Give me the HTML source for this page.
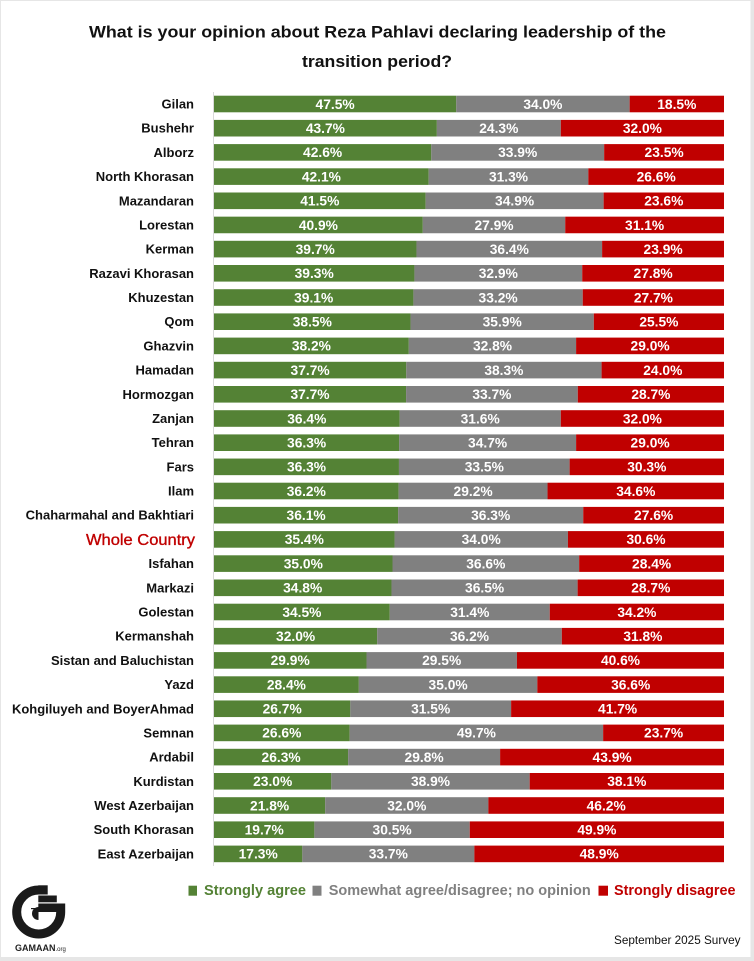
<!DOCTYPE html>
<html><head><meta charset="utf-8"><style>
html,body{margin:0;padding:0;background:#fff;}
svg{display:block;}
text{font-family:"Liberation Sans",Arial,sans-serif;}
.lb{font-size:13px;font-weight:bold;fill:#111;text-anchor:end;}
.v{font-size:13.8px;font-weight:bold;fill:#fff;text-anchor:middle;}
</style></head><body>
<svg width="754" height="961" viewBox="0 0 754 961" xmlns="http://www.w3.org/2000/svg">
<rect x="0" y="0" width="754" height="961" fill="#e6e6e6"/>
<rect x="1" y="1" width="749.5" height="956" fill="#fff"/>
<text x="89" y="37.5" font-size="17" font-weight="bold" fill="#111" textLength="577" lengthAdjust="spacingAndGlyphs">What is your opinion about Reza Pahlavi declaring leadership of the</text>
<text x="302" y="67" font-size="17" font-weight="bold" fill="#111" textLength="150" lengthAdjust="spacingAndGlyphs">transition period?</text>
<line x1="213.5" y1="92" x2="213.5" y2="866" stroke="#d9d9d9" stroke-width="1"/>

<g transform="translate(0,104)"><text class="lb" x="194" y="4.5">Gilan</text><rect x="214" y="-8.3" width="242.25" height="16.6" fill="#548235"/><rect x="456.25" y="-8.3" width="173.4" height="16.6" fill="#808080"/><rect x="629.65" y="-8.3" width="94.35" height="16.6" fill="#c00000"/><text class="v" x="335.1" y="4.8">47.5%</text><text class="v" x="542.9" y="4.8">34.0%</text><text class="v" x="676.8" y="4.8">18.5%</text></g>
<g transform="translate(0,128.2)"><text class="lb" x="194" y="4.5">Bushehr</text><rect x="214" y="-8.3" width="222.87" height="16.6" fill="#548235"/><rect x="436.87" y="-8.3" width="123.93" height="16.6" fill="#808080"/><rect x="560.8" y="-8.3" width="163.2" height="16.6" fill="#c00000"/><text class="v" x="325.4" y="4.8">43.7%</text><text class="v" x="498.8" y="4.8">24.3%</text><text class="v" x="642.4" y="4.8">32.0%</text></g>
<g transform="translate(0,152.4)"><text class="lb" x="194" y="4.5">Alborz</text><rect x="214" y="-8.3" width="217.26" height="16.6" fill="#548235"/><rect x="431.26" y="-8.3" width="172.89" height="16.6" fill="#808080"/><rect x="604.15" y="-8.3" width="119.85" height="16.6" fill="#c00000"/><text class="v" x="322.6" y="4.8">42.6%</text><text class="v" x="517.7" y="4.8">33.9%</text><text class="v" x="664.1" y="4.8">23.5%</text></g>
<g transform="translate(0,176.6)"><text class="lb" x="194" y="4.5">North Khorasan</text><rect x="214" y="-8.3" width="214.71" height="16.6" fill="#548235"/><rect x="428.71" y="-8.3" width="159.63" height="16.6" fill="#808080"/><rect x="588.34" y="-8.3" width="135.66" height="16.6" fill="#c00000"/><text class="v" x="321.4" y="4.8">42.1%</text><text class="v" x="508.5" y="4.8">31.3%</text><text class="v" x="656.2" y="4.8">26.6%</text></g>
<g transform="translate(0,200.8)"><text class="lb" x="194" y="4.5">Mazandaran</text><rect x="214" y="-8.3" width="211.65" height="16.6" fill="#548235"/><rect x="425.65" y="-8.3" width="177.99" height="16.6" fill="#808080"/><rect x="603.64" y="-8.3" width="120.36" height="16.6" fill="#c00000"/><text class="v" x="319.8" y="4.8">41.5%</text><text class="v" x="514.6" y="4.8">34.9%</text><text class="v" x="663.8" y="4.8">23.6%</text></g>
<g transform="translate(0,224.95)"><text class="lb" x="194" y="4.5">Lorestan</text><rect x="214" y="-8.3" width="208.8" height="16.6" fill="#548235"/><rect x="422.8" y="-8.3" width="142.43" height="16.6" fill="#808080"/><rect x="565.23" y="-8.3" width="158.77" height="16.6" fill="#c00000"/><text class="v" x="318.4" y="4.8">40.9%</text><text class="v" x="494.0" y="4.8">27.9%</text><text class="v" x="644.6" y="4.8">31.1%</text></g>
<g transform="translate(0,249.1)"><text class="lb" x="194" y="4.5">Kerman</text><rect x="214" y="-8.3" width="202.47" height="16.6" fill="#548235"/><rect x="416.47" y="-8.3" width="185.64" height="16.6" fill="#808080"/><rect x="602.11" y="-8.3" width="121.89" height="16.6" fill="#c00000"/><text class="v" x="315.2" y="4.8">39.7%</text><text class="v" x="509.3" y="4.8">36.4%</text><text class="v" x="663.1" y="4.8">23.9%</text></g>
<g transform="translate(0,273.3)"><text class="lb" x="194" y="4.5">Razavi Khorasan</text><rect x="214" y="-8.3" width="200.43" height="16.6" fill="#548235"/><rect x="414.43" y="-8.3" width="167.79" height="16.6" fill="#808080"/><rect x="582.22" y="-8.3" width="141.78" height="16.6" fill="#c00000"/><text class="v" x="314.2" y="4.8">39.3%</text><text class="v" x="498.3" y="4.8">32.9%</text><text class="v" x="653.1" y="4.8">27.8%</text></g>
<g transform="translate(0,297.5)"><text class="lb" x="194" y="4.5">Khuzestan</text><rect x="214" y="-8.3" width="199.41" height="16.6" fill="#548235"/><rect x="413.41" y="-8.3" width="169.32" height="16.6" fill="#808080"/><rect x="582.73" y="-8.3" width="141.27" height="16.6" fill="#c00000"/><text class="v" x="313.7" y="4.8">39.1%</text><text class="v" x="498.1" y="4.8">33.2%</text><text class="v" x="653.4" y="4.8">27.7%</text></g>
<g transform="translate(0,321.7)"><text class="lb" x="194" y="4.5">Qom</text><rect x="214" y="-8.3" width="196.55" height="16.6" fill="#548235"/><rect x="410.55" y="-8.3" width="183.27" height="16.6" fill="#808080"/><rect x="593.82" y="-8.3" width="130.18" height="16.6" fill="#c00000"/><text class="v" x="312.3" y="4.8">38.5%</text><text class="v" x="502.2" y="4.8">35.9%</text><text class="v" x="658.9" y="4.8">25.5%</text></g>
<g transform="translate(0,345.9)"><text class="lb" x="194" y="4.5">Ghazvin</text><rect x="214" y="-8.3" width="194.82" height="16.6" fill="#548235"/><rect x="408.82" y="-8.3" width="167.28" height="16.6" fill="#808080"/><rect x="576.1" y="-8.3" width="147.9" height="16.6" fill="#c00000"/><text class="v" x="311.4" y="4.8">38.2%</text><text class="v" x="492.5" y="4.8">32.8%</text><text class="v" x="650.1" y="4.8">29.0%</text></g>
<g transform="translate(0,370.1)"><text class="lb" x="194" y="4.5">Hamadan</text><rect x="214" y="-8.3" width="192.27" height="16.6" fill="#548235"/><rect x="406.27" y="-8.3" width="195.33" height="16.6" fill="#808080"/><rect x="601.6" y="-8.3" width="122.4" height="16.6" fill="#c00000"/><text class="v" x="310.1" y="4.8">37.7%</text><text class="v" x="503.9" y="4.8">38.3%</text><text class="v" x="662.8" y="4.8">24.0%</text></g>
<g transform="translate(0,394.3)"><text class="lb" x="194" y="4.5">Hormozgan</text><rect x="214" y="-8.3" width="192.08" height="16.6" fill="#548235"/><rect x="406.08" y="-8.3" width="171.7" height="16.6" fill="#808080"/><rect x="577.78" y="-8.3" width="146.22" height="16.6" fill="#c00000"/><text class="v" x="310.0" y="4.8">37.7%</text><text class="v" x="491.9" y="4.8">33.7%</text><text class="v" x="650.9" y="4.8">28.7%</text></g>
<g transform="translate(0,418.5)"><text class="lb" x="194" y="4.5">Zanjan</text><rect x="214" y="-8.3" width="185.64" height="16.6" fill="#548235"/><rect x="399.64" y="-8.3" width="161.16" height="16.6" fill="#808080"/><rect x="560.8" y="-8.3" width="163.2" height="16.6" fill="#c00000"/><text class="v" x="306.8" y="4.8">36.4%</text><text class="v" x="480.2" y="4.8">31.6%</text><text class="v" x="642.4" y="4.8">32.0%</text></g>
<g transform="translate(0,442.7)"><text class="lb" x="194" y="4.5">Tehran</text><rect x="214" y="-8.3" width="185.13" height="16.6" fill="#548235"/><rect x="399.13" y="-8.3" width="176.97" height="16.6" fill="#808080"/><rect x="576.1" y="-8.3" width="147.9" height="16.6" fill="#c00000"/><text class="v" x="306.6" y="4.8">36.3%</text><text class="v" x="487.6" y="4.8">34.7%</text><text class="v" x="650.1" y="4.8">29.0%</text></g>
<g transform="translate(0,466.85)"><text class="lb" x="194" y="4.5">Fars</text><rect x="214" y="-8.3" width="184.95" height="16.6" fill="#548235"/><rect x="398.95" y="-8.3" width="170.68" height="16.6" fill="#808080"/><rect x="569.63" y="-8.3" width="154.37" height="16.6" fill="#c00000"/><text class="v" x="306.5" y="4.8">36.3%</text><text class="v" x="484.3" y="4.8">33.5%</text><text class="v" x="646.8" y="4.8">30.3%</text></g>
<g transform="translate(0,491)"><text class="lb" x="194" y="4.5">Ilam</text><rect x="214" y="-8.3" width="184.62" height="16.6" fill="#548235"/><rect x="398.62" y="-8.3" width="148.92" height="16.6" fill="#808080"/><rect x="547.54" y="-8.3" width="176.46" height="16.6" fill="#c00000"/><text class="v" x="306.3" y="4.8">36.2%</text><text class="v" x="473.1" y="4.8">29.2%</text><text class="v" x="635.8" y="4.8">34.6%</text></g>
<g transform="translate(0,515.2)"><text class="lb" x="194" y="4.5">Chaharmahal and Bakhtiari</text><rect x="214" y="-8.3" width="184.11" height="16.6" fill="#548235"/><rect x="398.11" y="-8.3" width="185.13" height="16.6" fill="#808080"/><rect x="583.24" y="-8.3" width="140.76" height="16.6" fill="#c00000"/><text class="v" x="306.1" y="4.8">36.1%</text><text class="v" x="490.7" y="4.8">36.3%</text><text class="v" x="653.6" y="4.8">27.6%</text></g>
<g transform="translate(0,539.4)"><text x="195" y="5.5" font-size="15.5" fill="#c00000" stroke="#c00000" stroke-width="0.35" text-anchor="end" textLength="109" lengthAdjust="spacingAndGlyphs">Whole Country</text><rect x="214" y="-8.3" width="180.54" height="16.6" fill="#548235"/><rect x="394.54" y="-8.3" width="173.4" height="16.6" fill="#808080"/><rect x="567.94" y="-8.3" width="156.06" height="16.6" fill="#c00000"/><text class="v" x="304.3" y="4.8">35.4%</text><text class="v" x="481.2" y="4.8">34.0%</text><text class="v" x="646.0" y="4.8">30.6%</text></g>
<g transform="translate(0,563.6)"><text class="lb" x="194" y="4.5">Isfahan</text><rect x="214" y="-8.3" width="178.5" height="16.6" fill="#548235"/><rect x="392.5" y="-8.3" width="186.66" height="16.6" fill="#808080"/><rect x="579.16" y="-8.3" width="144.84" height="16.6" fill="#c00000"/><text class="v" x="303.3" y="4.8">35.0%</text><text class="v" x="485.8" y="4.8">36.6%</text><text class="v" x="651.6" y="4.8">28.4%</text></g>
<g transform="translate(0,587.8)"><text class="lb" x="194" y="4.5">Markazi</text><rect x="214" y="-8.3" width="177.48" height="16.6" fill="#548235"/><rect x="391.48" y="-8.3" width="186.15" height="16.6" fill="#808080"/><rect x="577.63" y="-8.3" width="146.37" height="16.6" fill="#c00000"/><text class="v" x="302.7" y="4.8">34.8%</text><text class="v" x="484.6" y="4.8">36.5%</text><text class="v" x="650.8" y="4.8">28.7%</text></g>
<g transform="translate(0,612)"><text class="lb" x="194" y="4.5">Golestan</text><rect x="214" y="-8.3" width="175.77" height="16.6" fill="#548235"/><rect x="389.77" y="-8.3" width="159.98" height="16.6" fill="#808080"/><rect x="549.75" y="-8.3" width="174.25" height="16.6" fill="#c00000"/><text class="v" x="301.9" y="4.8">34.5%</text><text class="v" x="469.8" y="4.8">31.4%</text><text class="v" x="636.9" y="4.8">34.2%</text></g>
<g transform="translate(0,636.2)"><text class="lb" x="194" y="4.5">Kermanshah</text><rect x="214" y="-8.3" width="163.2" height="16.6" fill="#548235"/><rect x="377.2" y="-8.3" width="184.62" height="16.6" fill="#808080"/><rect x="561.82" y="-8.3" width="162.18" height="16.6" fill="#c00000"/><text class="v" x="295.6" y="4.8">32.0%</text><text class="v" x="469.5" y="4.8">36.2%</text><text class="v" x="642.9" y="4.8">31.8%</text></g>
<g transform="translate(0,660.4)"><text class="lb" x="194" y="4.5">Sistan and Baluchistan</text><rect x="214" y="-8.3" width="152.49" height="16.6" fill="#548235"/><rect x="366.49" y="-8.3" width="150.45" height="16.6" fill="#808080"/><rect x="516.94" y="-8.3" width="207.06" height="16.6" fill="#c00000"/><text class="v" x="290.2" y="4.8">29.9%</text><text class="v" x="441.7" y="4.8">29.5%</text><text class="v" x="620.5" y="4.8">40.6%</text></g>
<g transform="translate(0,684.6)"><text class="lb" x="194" y="4.5">Yazd</text><rect x="214" y="-8.3" width="144.84" height="16.6" fill="#548235"/><rect x="358.84" y="-8.3" width="178.5" height="16.6" fill="#808080"/><rect x="537.34" y="-8.3" width="186.66" height="16.6" fill="#c00000"/><text class="v" x="286.4" y="4.8">28.4%</text><text class="v" x="448.1" y="4.8">35.0%</text><text class="v" x="630.7" y="4.8">36.6%</text></g>
<g transform="translate(0,708.75)"><text class="lb" x="194" y="4.5">Kohgiluyeh and BoyerAhmad</text><rect x="214" y="-8.3" width="136.31" height="16.6" fill="#548235"/><rect x="350.31" y="-8.3" width="160.81" height="16.6" fill="#808080"/><rect x="511.12" y="-8.3" width="212.88" height="16.6" fill="#c00000"/><text class="v" x="282.2" y="4.8">26.7%</text><text class="v" x="430.7" y="4.8">31.5%</text><text class="v" x="617.6" y="4.8">41.7%</text></g>
<g transform="translate(0,732.9)"><text class="lb" x="194" y="4.5">Semnan</text><rect x="214" y="-8.3" width="135.66" height="16.6" fill="#548235"/><rect x="349.66" y="-8.3" width="253.47" height="16.6" fill="#808080"/><rect x="603.13" y="-8.3" width="120.87" height="16.6" fill="#c00000"/><text class="v" x="281.8" y="4.8">26.6%</text><text class="v" x="476.4" y="4.8">49.7%</text><text class="v" x="663.6" y="4.8">23.7%</text></g>
<g transform="translate(0,757.1)"><text class="lb" x="194" y="4.5">Ardabil</text><rect x="214" y="-8.3" width="134.13" height="16.6" fill="#548235"/><rect x="348.13" y="-8.3" width="151.98" height="16.6" fill="#808080"/><rect x="500.11" y="-8.3" width="223.89" height="16.6" fill="#c00000"/><text class="v" x="281.1" y="4.8">26.3%</text><text class="v" x="424.1" y="4.8">29.8%</text><text class="v" x="612.1" y="4.8">43.9%</text></g>
<g transform="translate(0,781.3)"><text class="lb" x="194" y="4.5">Kurdistan</text><rect x="214" y="-8.3" width="117.3" height="16.6" fill="#548235"/><rect x="331.3" y="-8.3" width="198.39" height="16.6" fill="#808080"/><rect x="529.69" y="-8.3" width="194.31" height="16.6" fill="#c00000"/><text class="v" x="272.7" y="4.8">23.0%</text><text class="v" x="430.5" y="4.8">38.9%</text><text class="v" x="626.8" y="4.8">38.1%</text></g>
<g transform="translate(0,805.5)"><text class="lb" x="194" y="4.5">West Azerbaijan</text><rect x="214" y="-8.3" width="111.18" height="16.6" fill="#548235"/><rect x="325.18" y="-8.3" width="163.2" height="16.6" fill="#808080"/><rect x="488.38" y="-8.3" width="235.62" height="16.6" fill="#c00000"/><text class="v" x="269.6" y="4.8">21.8%</text><text class="v" x="406.8" y="4.8">32.0%</text><text class="v" x="606.2" y="4.8">46.2%</text></g>
<g transform="translate(0,829.7)"><text class="lb" x="194" y="4.5">South Khorasan</text><rect x="214" y="-8.3" width="100.37" height="16.6" fill="#548235"/><rect x="314.37" y="-8.3" width="155.39" height="16.6" fill="#808080"/><rect x="469.76" y="-8.3" width="254.24" height="16.6" fill="#c00000"/><text class="v" x="264.2" y="4.8">19.7%</text><text class="v" x="392.1" y="4.8">30.5%</text><text class="v" x="596.9" y="4.8">49.9%</text></g>
<g transform="translate(0,853.9)"><text class="lb" x="194" y="4.5">East Azerbaijan</text><rect x="214" y="-8.3" width="88.32" height="16.6" fill="#548235"/><rect x="302.32" y="-8.3" width="172.04" height="16.6" fill="#808080"/><rect x="474.36" y="-8.3" width="249.64" height="16.6" fill="#c00000"/><text class="v" x="258.2" y="4.8">17.3%</text><text class="v" x="388.3" y="4.8">33.7%</text><text class="v" x="599.2" y="4.8">48.9%</text></g>

<!-- Legend -->
<rect x="188.5" y="885.7" width="8.5" height="10" fill="#548235"/>
<text x="204" y="895" font-size="14.5" font-weight="bold" fill="#548235" textLength="102" lengthAdjust="spacingAndGlyphs">Strongly agree</text>
<rect x="312.5" y="885.7" width="9" height="10" fill="#808080"/>
<text x="328.7" y="895" font-size="14.5" font-weight="bold" fill="#808080" textLength="262" lengthAdjust="spacingAndGlyphs">Somewhat agree/disagree; no opinion</text>
<rect x="598.5" y="885.7" width="9.5" height="10" fill="#c00000"/>
<text x="614" y="895" font-size="14.5" font-weight="bold" fill="#c00000" textLength="121.5" lengthAdjust="spacingAndGlyphs">Strongly disagree</text>

<text x="614" y="944" font-size="12" fill="#111" textLength="126.5" lengthAdjust="spacingAndGlyphs">September 2025 Survey</text>

<!-- Logo -->
<g>
<circle cx="38.7" cy="912" r="22" fill="none" stroke="#1a1a1a" stroke-width="9"/>
<rect x="38.7" y="882" width="30" height="30" fill="#fff"/>
<rect x="38.3" y="885.3" width="9.4" height="9.2" fill="#1a1a1a"/>
<rect x="38.3" y="895.5" width="18.5" height="6.8" fill="#1a1a1a"/>
<rect x="38.3" y="903.5" width="26.9" height="8.5" fill="#1a1a1a"/>
<path d="M38.5,907 A6.5,6.5 0 0,0 38.5,920 Z" fill="#1a1a1a"/>
<rect x="31" y="908" width="7.5" height="1.2" fill="#1a1a1a"/>
</g>
<text x="15" y="951" font-size="9" font-weight="bold" fill="#222">GAMAAN<tspan font-size="6" font-weight="normal">.org</tspan></text>
</svg>
</body></html>
